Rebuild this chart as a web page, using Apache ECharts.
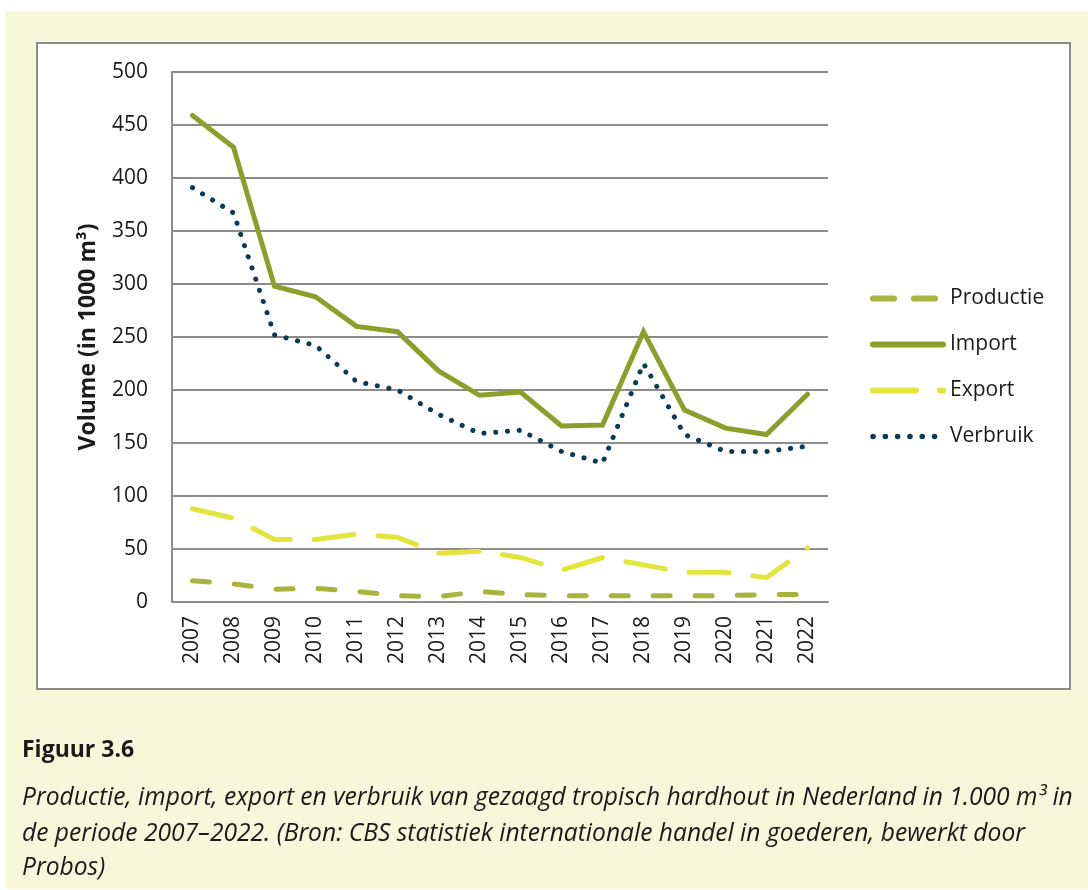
<!DOCTYPE html>
<html>
<head>
<meta charset="utf-8">
<script src="https://cdn.jsdelivr.net/npm/echarts@6/dist/echarts.min.js"></script>
<style>
html,body{margin:0;padding:0;background:#ffffff;}
#c{width:1088px;height:890px;}
</style>
</head>
<body>
<div id="c"></div>
<script>
var years = ['2007','2008','2009','2010','2011','2012','2013','2014','2015','2016','2017','2018','2019','2020','2021','2022'];
var productie = [20,17,12,13,10,6,5,10,7,6,6,6,6,6,7,7];
var importData = [459,429,298,288,260,255,218,195,198,166,167,255,181,164,158,196];
var exportData = [88,79,59,59,64,61,46,48,42,30,42,35,28,28,23,51];
var verbruik = [391,367,252,242,208,200,177,159,162,142,131,225,158,142,142,147];
var yTicks = [0,50,100,150,200,250,300,350,400,450,500];

var FONT = 'Open Sans';
var C_PROD = '#a9b43c', C_IMP = '#8c9f2a', C_EXP = '#e2e63c', C_VER = '#0b3a52';
var chart = echarts.init(document.getElementById('c'), null, {renderer:'canvas'});
chart.setOption({
  animation:false,
  backgroundColor:'#ffffff',
  textStyle:{fontFamily:FONT},
  graphic:[
    {type:'rect', z:-10, shape:{x:6,y:11,width:1082,height:878}, style:{fill:'#f7f7da'}},
    {type:'rect', z:-9, shape:{x:37,y:43,width:1033,height:646}, style:{fill:'#ffffff', stroke:'#8c8c8c', lineWidth:2}},
    {type:'text', x:22, y:750, style:{text:'Figuur 3.6', font:'bold 23px "Open Sans"', fill:'#1a1a1a', verticalAlign:'middle'}},
    {type:'text', x:22, y:798, style:{text:'Productie, import, export en verbruik van gezaagd tropisch hardhout in Nederland in 1.000 m³ in', font:'italic 24.6px "Open Sans"', fill:'#1a1a1a', verticalAlign:'middle'}},
    {type:'text', x:22, y:834, style:{text:'de periode 2007–2022. (Bron: CBS statistiek internationale handel in goederen, bewerkt door', font:'italic 24.6px "Open Sans"', fill:'#1a1a1a', verticalAlign:'middle'}},
    {type:'text', x:22, y:868, style:{text:'Probos)', font:'italic 24.6px "Open Sans"', fill:'#1a1a1a', verticalAlign:'middle'}}
  ],
  grid:{left:172, top:72, width:656, height:530, containLabel:false},
  legend:{
    orient:'vertical', left:870, top:288, padding:0, itemWidth:70, itemHeight:14, itemGap:25,
    textStyle:{fontSize:21, color:'#1a1a1a', fontFamily:FONT, padding:[0,0,0,2]},
    itemStyle:{opacity:0},
    data:[
      {name:'Productie', itemStyle:{opacity:0}, lineStyle:{color:C_PROD, width:6, type:[21,20], cap:'round'}},
      {name:'Import', itemStyle:{opacity:0}, lineStyle:{color:C_IMP, width:6, cap:'round'}},
      {name:'Export', itemStyle:{opacity:0}, lineStyle:{color:C_EXP, width:6, type:[43,24], cap:'round'}},
      {name:'Verbruik', itemStyle:{opacity:0}, lineStyle:{color:C_VER, width:5.5, type:[0.1,12.2], cap:'round'}}
    ]
  },
  xAxis:{
    type:'category', data:years, boundaryGap:true,
    axisLine:{show:true, lineStyle:{color:'#8c8c8c', width:2}},
    axisTick:{show:false},
    axisLabel:{rotate:90, fontSize:21, color:'#1a1a1a', margin:14, fontFamily:FONT}
  },
  yAxis:{
    type:'value', min:0, max:500, interval:50,
    name:'Volume (in 1000 m³)', nameLocation:'middle', nameGap:72, nameRotate:90,
    nameTextStyle:{fontSize:23, fontWeight:'bold', color:'#1a1a1a', fontFamily:FONT},
    axisLine:{show:true, lineStyle:{color:'#8c8c8c', width:2}},
    axisTick:{show:false},
    splitLine:{show:true, lineStyle:{color:'#8c8c8c', width:2}},
    axisLabel:{fontSize:21, color:'#1a1a1a', margin:24, fontFamily:FONT,
      formatter:function(v){return yTicks.indexOf(v)>=0 ? String(v) : '';}}
  },
  series:[
    {name:'Productie', type:'line', data:productie, symbol:'none', z:2,
      lineStyle:{color:C_PROD, width:5, type:[17,25], cap:'round'}, itemStyle:{color:C_PROD}},
    {name:'Import', type:'line', data:importData, symbol:'none', z:3,
      lineStyle:{color:C_IMP, width:5, cap:'round', join:'miter'}, itemStyle:{color:C_IMP}},
    {name:'Export', type:'line', data:exportData, symbol:'none', z:2,
      lineStyle:{color:C_EXP, width:5, type:[40,24], cap:'round'}, itemStyle:{color:C_EXP}},
    {name:'Verbruik', type:'line', data:verbruik, symbol:'none', z:4,
      lineStyle:{color:C_VER, width:5, type:[0.1,11.7], cap:'round'}, itemStyle:{color:C_VER}}
  ]
});
</script>
</body>
</html>
